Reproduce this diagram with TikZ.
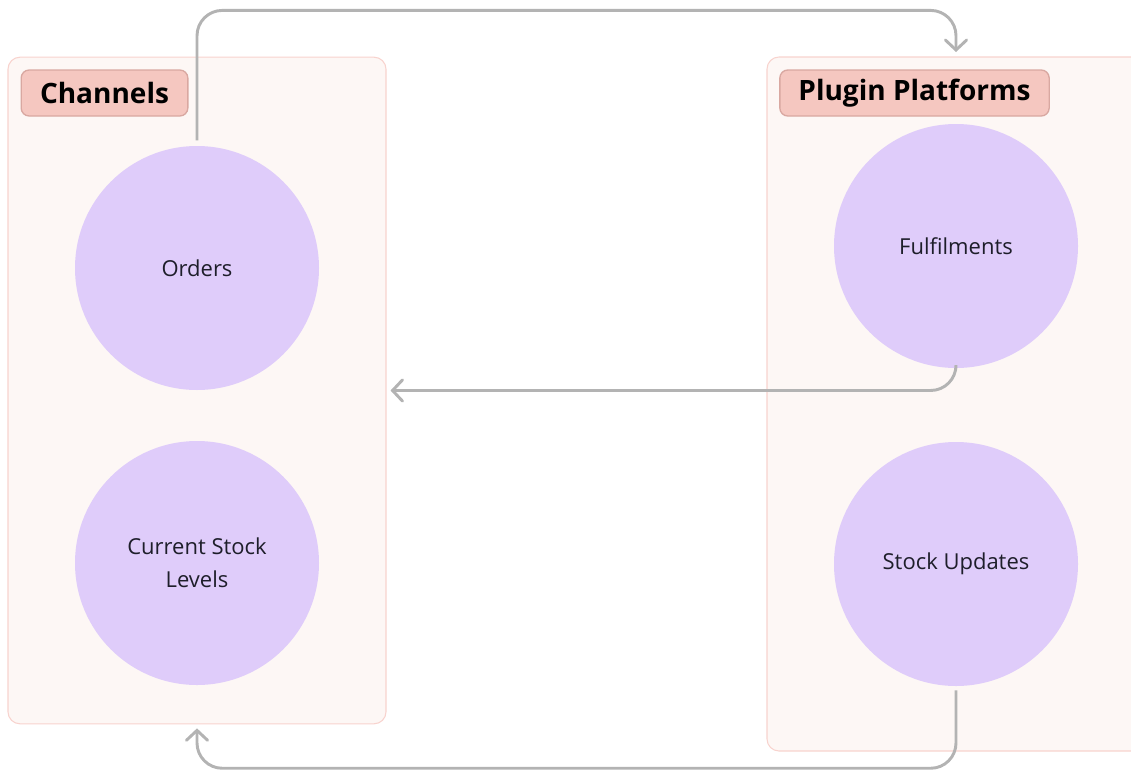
\documentclass[tikz,border=0pt]{standalone}
\usepackage{fontspec}
\setmainfont{Open Sans}
\usetikzlibrary{arrows.meta, positioning, calc}
\definecolor{boxfill}{HTML}{FDF7F5}
\definecolor{boxline}{HTML}{F8D3CE}
\definecolor{tagfill}{HTML}{F5C7C0}
\definecolor{tagline}{HTML}{D9A8A1}
\definecolor{lav}{HTML}{DFCCFA}
\definecolor{wire}{HTML}{B3B3B3}
\definecolor{ink}{HTML}{1E1E2A}
\tikzset{
  grp/.style  = {rectangle, rounded corners=9pt, draw=boxline, fill=boxfill,
                 line width=0.8pt, inner sep=0pt},
  tag/.style  = {rectangle, rounded corners=6pt, draw=tagline, fill=tagfill,
                 line width=1pt, minimum height=34.5pt, inner sep=0pt,
                 font=\bfseries\fontsize{21}{24}\selectfont, text=black},
  bub/.style  = {circle, fill=lav, minimum size=183pt, inner sep=0pt,
                 font=\fontsize{16.5}{25}\selectfont, align=center, text=ink},
  flow/.style = {-{Straight Barb[length=7.5pt, width=16pt, line cap=round]},
                 line width=2.2pt, color=wire, rounded corners=19pt},
}

\begin{document}
\begin{tikzpicture}[x=0.75pt, y=-0.75pt]
  \clip (0,0) rectangle (1131,771);
  \useasboundingbox (0,0) rectangle (1131,771);

  % groups
  \node[grp, minimum width=283.5pt, minimum height=500pt] (chanbox) at (197,390.5) {};
  \node[grp, minimum width=300pt, minimum height=520.5pt] (plugbox) at (967,404) {};
  \node[tag, minimum width=125pt] (chantag) at (104.5,93) {Channels};
  \node[tag, minimum width=202pt] (plugtag) at (914.5,93) {Plugin Platforms};

  % circles
  \node[bub] (orders) at (197,268) {Orders};
  \node[bub] (levels) at (197,563) {Current Stock\\Levels};
  \node[bub] (fulfil) at (956,246) {Fulfilments};
  \node[bub] (stock)  at (956,564) {Stock Updates};

  \coordinate (plugtop) at (956,52);

  % flows
  \draw[flow] ([yshift=4pt]orders.north) -- ++(0,-130) -| (plugtop);
  \draw[flow] (fulfil.south) |- ([xshift=3pt]chanbox.east);
  \draw[flow] ([yshift=-3pt]stock.south) -- ++(0,78) -| ([yshift=-3pt]chanbox.south);

\end{tikzpicture}
\end{document}
